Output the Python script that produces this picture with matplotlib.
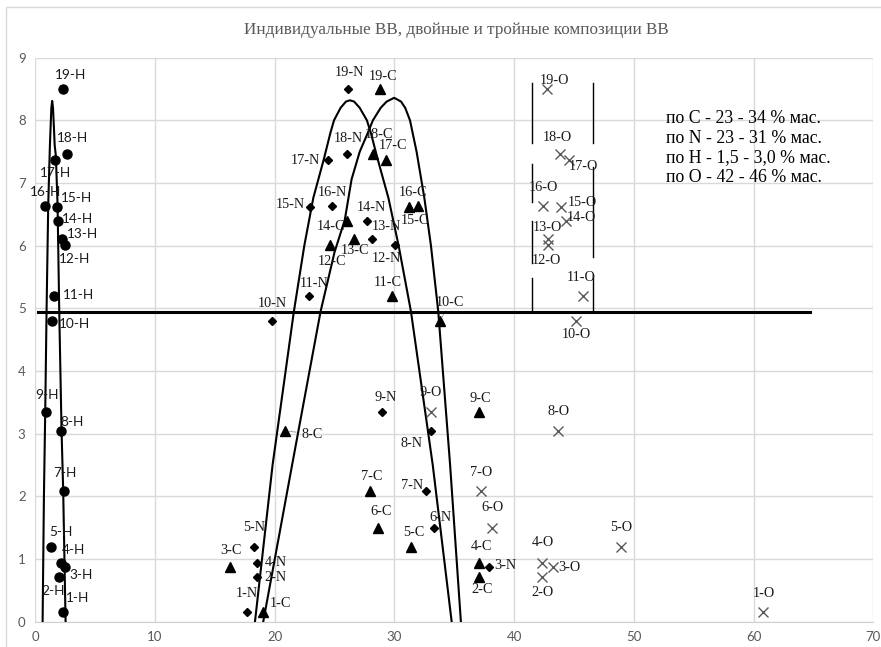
import numpy as np
import matplotlib
matplotlib.use("Agg")
import matplotlib.pyplot as plt
from matplotlib.patches import Rectangle

# ---------------- data ----------------
ids = list(range(1, 20))

# property value for each composition (shared by all four series)
prop = [0.15, 0.71, 0.88, 0.94, 1.20, 1.50, 2.08, 3.05, 3.35, 4.80,
        5.20, 6.01, 6.11, 6.40, 6.61, 6.63, 7.36, 7.46, 8.50]

# element content, % mass
h_pct = [2.33, 1.97, 2.47, 2.14, 1.28, np.nan, 2.36, 2.14, 0.89, 1.36,
         1.55, 2.47, 2.19, 1.91, 1.83, 0.80, 1.64, 2.64, 2.33]
n_pct = [17.70, 18.48, 37.87, 18.48, 18.26, 33.33, 32.63, 33.02, 28.93, 19.74,
         22.89, 30.05, 28.12, 27.67, 22.94, 24.78, 24.42, 26.03, 26.09]
c_pct = [19.01, 37.04, 16.23, 37.04, 31.38, 28.65, 27.92, 20.88, 37.09, 33.80,
         29.79, 24.61, 26.65, 26.00, 31.21, 31.94, 29.29, 28.18, 28.79]
o_pct = [60.81, 42.30, 43.21, 42.30, 48.95, 38.12, 37.23, 43.65, 33.02, 45.15,
         45.75, 42.85, 42.85, 44.35, 43.95, 42.45, 44.55, 43.85, 42.75]

# envelope curves
h_curve_x = [0.61, 0.72, 0.83, 0.94, 1.08, 1.22, 1.29, 1.34, 1.41,
             1.48, 1.54, 1.62, 1.72, 1.86, 2.00, 2.19, 2.33, 2.53]
h_curve_y = [0.00, 2.00, 3.36, 4.95, 6.65, 7.60, 7.95, 8.20, 8.31,
             8.20, 7.95, 7.60, 7.43, 6.65, 4.95, 3.07, 2.09, 0.00]
n_curve_x = [18.35, 19.82, 21.60, 22.47, 23.22, 24.10, 24.65, 24.95, 25.50, 25.95, 26.28,
             26.63, 27.10, 27.70, 28.03, 28.60, 29.50, 30.35, 31.38, 33.20, 34.78]
n_curve_y = [0.00, 2.50, 4.95, 6.00, 6.76, 7.38, 7.80, 8.00, 8.20, 8.30, 8.32,
             8.30, 8.20, 8.00, 7.80, 7.38, 6.76, 6.00, 4.95, 2.50, 0.00]
c_curve_x = [19.04, 21.45, 23.83, 25.00, 25.85, 26.42, 27.10, 27.73, 28.20, 28.85, 29.35, 29.98,
             30.55, 30.90, 31.30, 31.85, 32.50, 33.05, 33.66, 34.65, 35.55]
c_curve_y = [0.00, 2.50, 4.95, 5.90, 6.41, 7.06, 7.50, 7.78, 8.00, 8.20, 8.30, 8.36,
             8.30, 8.20, 8.00, 7.50, 6.76, 6.00, 4.95, 2.50, 0.00]

# threshold line
level_y = 4.95
level_x = [0.2, 64.7]

# oxygen range markers (x, y_from, y_to)
o_left_x = 41.53
o_left_segs = [(8.60, 7.64), (7.31, 6.69), (6.39, 5.72), (5.48, 4.95)]
o_right_x = 46.59
o_right_segs = [(8.60, 7.64), (7.26, 5.82), (5.53, 4.95)]

note_lines = ["по C - 23 - 34 % мас.",
              "по N - 23 - 31 % мас.",
              "по H - 1,5 - 3,0 % мас.",
              "по O - 42 - 46 % мас."]

title = "Индивидуальные ВВ, двойные и тройные композиции ВВ"

# label offsets in pixels (dx, dy up), one per composition
h_off = [(14, 14), (-6, -14), (16, -8), (13, 13), (10, 14), None, (1, 18), (11, 9), (1, 17), (23, -3),
         (25, 1), (10, -14), (21, 5), (19, 2), (19, 9), (1, 14), (1, -13), (6, 16), (7, 14)]
n_off = [(0, 19), (19, 0), (17, 1), (19, 0), (0, 19), (6, 10), (-14, 6), (-19, -13), (4, 14), (1, 17),
         (5, 12), (-9, -13), (14, 12), (5, 13), (-20, 3), (0, 14), (-22, 0), (1, 16), (2, 17)]
c_off = [(18, 9), (3, -12), (1, 16), (3, 16), (3, 14), (3, 16), (2, 15), (27, -4), (1, 13), (10, 18),
         (-4, 13), (2, -16), (1, -12), (-16, -6), (6, -13), (-5, 14), (7, 15), (6, 20), (3, 13)]
o_off = [(1, 19), (1, -15), (17, -1), (1, 20), (0, 19), (1, 20), (0, 19), (1, 19), (0, 19), (1, -14),
         (-2, 18), (-2, -15), (-1, 11), (15, 3), (21, 5), (0, 19), (15, -6), (-3, 17), (7, 9)]

# ---------------- figure ----------------
W, H = 881, 647
fig = plt.figure(figsize=(W / 100, H / 100), dpi=100)
fig.patch.set_facecolor("white")

# chart area frame
fig.patches.append(Rectangle((6 / W, -0.1), 2, 1 - 7 / H + 0.1, transform=fig.transFigure,
                             fill=False, edgecolor="#d9d9d9", lw=1.0))

ax = fig.add_axes([35.3 / W, 25.3 / H, 838 / W, 564 / H])
ax.set_xlim(0, 70)
ax.set_ylim(0, 9)
ax.set_xticks(range(0, 71, 10))
ax.set_yticks(range(0, 10))
ax.grid(True, color="#d9d9d9", lw=1.0)
ax.set_axisbelow(True)
for side in ["top", "right", "left"]:
    ax.spines[side].set_visible(False)
ax.spines["bottom"].set_color("#d0d0d0")
ax.tick_params(length=0, colors="#595959", labelsize=9.5, pad=7)
for lab in ax.get_xticklabels() + ax.get_yticklabels():
    lab.set_fontfamily("Lato")

fig.text(456 / W, 1 - 30 / H, title, ha="center", va="center",
         fontsize=12.3, color="#595959", family="Liberation Serif")

# markers
ax.plot(h_pct, prop, "o", color="black", ms=6.5, zorder=4)
ax.plot(n_pct, prop, "D", color="black", ms=4.5, zorder=4)
ax.plot(c_pct, prop, "^", color="black", ms=6.5, zorder=4)
ax.plot(o_pct, prop, "x", color="#595959", ms=6.5, mew=1.0, zorder=4)

# envelope curves and level line
for cx, cy in [(h_curve_x, h_curve_y), (n_curve_x, n_curve_y), (c_curve_x, c_curve_y)]:
    ax.plot(cx, cy, color="black", lw=1.5, zorder=3)
ax.plot(level_x, [level_y, level_y], color="black", lw=2.2, zorder=3)
for y0, y1 in o_left_segs:
    ax.plot([o_left_x, o_left_x], [y0, y1], color="black", lw=1.0, zorder=3)
for y0, y1 in o_right_segs:
    ax.plot([o_right_x, o_right_x], [y0, y1], color="black", lw=1.0, zorder=3)


def put_labels(xs, suffix, offs, family, size, leaders=()):
    for i, x, y, off in zip(ids, xs, prop, offs):
        if off is None or np.isnan(x):
            continue
        arrow = None
        if i in leaders:
            arrow = dict(arrowstyle="-", color="#a6a6a6", lw=0.8, shrinkA=2, shrinkB=3)
        ax.annotate(f"{i}-{suffix}", (x, y), xytext=off, textcoords="offset pixels",
                    ha="center", va="center", fontsize=size, family=family,
                    color="#1a1a1a", arrowprops=arrow, zorder=5)


put_labels(h_pct, "H", h_off, "Lato", 9.8)
put_labels(n_pct, "N", n_off, "Liberation Serif", 10.3)
put_labels(c_pct, "C", c_off, "Liberation Serif", 10.3, leaders=(8, 10))
put_labels(o_pct, "O", o_off, "Liberation Serif", 10.3)

fig.text(666 / W, 1 - 110 / H, "\n".join(note_lines), ha="left", va="top",
         fontsize=12.8, family="Liberation Serif", color="black", linespacing=1.2)

fig.savefig("out.png", dpi=100)
